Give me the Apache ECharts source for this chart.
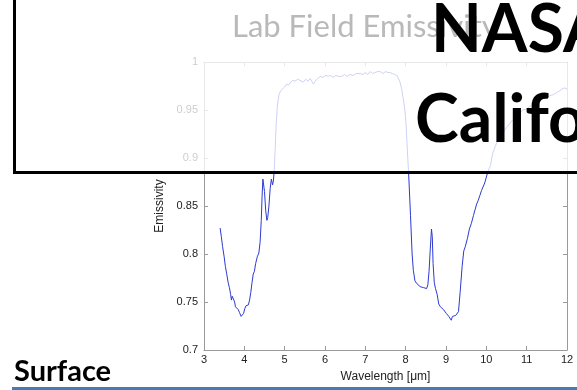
<!DOCTYPE html>
<html><head><meta charset="utf-8">
<script src="https://cdn.jsdelivr.net/npm/echarts@6/dist/echarts.min.js"></script>
<style>html,body{margin:0;padding:0;background:#fff;}#c{width:577px;height:390px;}</style>
</head><body><div id="c"></div>
<script>
var wavelength = [3.40,3.43,3.46,3.50,3.53,3.56,3.60,3.63,3.66,3.68,3.70,3.73,3.76,3.78,3.82,3.85,3.88,3.92,3.95,3.98,4.01,4.04,4.07,4.10,4.13,4.16,4.19,4.22,4.25,4.28,4.32,4.36,4.39,4.42,4.44,4.46,4.48,4.50,4.53,4.56,4.58,4.61,4.64,4.67,4.70,4.72,4.74,4.76,4.79,4.82,4.86,4.90,4.95,5.00,5.05,5.10,5.15,5.20,5.26,5.32,5.38,5.46,5.52,5.58,5.63,5.67,5.71,5.76,5.82,5.88,5.95,6.02,6.08,6.13,6.20,6.27,6.34,6.42,6.48,6.55,6.62,6.70,6.78,6.87,6.94,7.01,7.06,7.12,7.18,7.24,7.30,7.37,7.44,7.50,7.56,7.61,7.67,7.73,7.78,7.82,7.86,7.90,7.94,7.98,8.01,8.04,8.08,8.12,8.16,8.19,8.23,8.28,8.32,8.36,8.40,8.44,8.48,8.52,8.55,8.58,8.61,8.64,8.66,8.68,8.71,8.74,8.78,8.82,8.86,8.90,8.94,8.98,9.01,9.04,9.07,9.10,9.13,9.16,9.20,9.24,9.28,9.31,9.35,9.40,9.44,9.48,9.53,9.58,9.63,9.68,9.72,9.76,9.80,9.84,9.88,9.92,9.96,10.00,10.04,10.10,10.16,10.22,10.30,10.36,10.42,10.50,10.58,10.66,10.74,10.82,10.90,11.00,11.08,11.16,11.25,11.34,11.42,11.50,11.58,11.66,11.74,11.82,11.88,11.94,12.00];
var emissivity = [0.827,0.818,0.808,0.797,0.787,0.780,0.770,0.765,0.758,0.752,0.756,0.754,0.750,0.745,0.743,0.742,0.739,0.735,0.733,0.738,0.743,0.746,0.745,0.747,0.752,0.760,0.770,0.779,0.782,0.790,0.797,0.801,0.812,0.835,0.860,0.878,0.876,0.865,0.845,0.835,0.838,0.850,0.868,0.878,0.872,0.876,0.886,0.905,0.935,0.955,0.966,0.970,0.972,0.974,0.977,0.976,0.979,0.981,0.980,0.982,0.981,0.979,0.982,0.980,0.983,0.980,0.977,0.980,0.983,0.985,0.984,0.986,0.985,0.986,0.984,0.986,0.985,0.985,0.987,0.985,0.987,0.986,0.988,0.988,0.987,0.989,0.987,0.990,0.988,0.989,0.990,0.990,0.988,0.990,0.989,0.989,0.988,0.987,0.986,0.983,0.979,0.972,0.962,0.950,0.935,0.910,0.878,0.840,0.800,0.783,0.772,0.769,0.768,0.766,0.768,0.765,0.766,0.764,0.768,0.782,0.805,0.826,0.818,0.790,0.770,0.764,0.758,0.748,0.745,0.745,0.742,0.743,0.738,0.739,0.735,0.733,0.731,0.735,0.734,0.736,0.735,0.740,0.760,0.787,0.803,0.808,0.816,0.826,0.832,0.840,0.846,0.852,0.856,0.861,0.866,0.868,0.874,0.880,0.886,0.892,0.905,0.912,0.920,0.923,0.927,0.932,0.936,0.940,0.943,0.946,0.950,0.951,0.954,0.956,0.959,0.960,0.962,0.963,0.965,0.966,0.968,0.970,0.972,0.973,0.972];
var xTicks = [3,4,5,6,7,8,9,10,11,12];
var yTicks = [0.7,0.75,0.8,0.85,0.9,0.95,1];
var chartTitle = 'Lab Field Emissivity';
var xName = 'Wavelength [\u03bcm]';
var yName = 'Emissivity';
var slideTexts = ['NASA', 'California', 'Surface'];

var pairs = wavelength.map(function (w, i) { return [w, emissivity[i]]; });
var axisCol = '#9a9a9a';
var labelCol = '#222';
function baseAxis(extra) {
  var a = {
    type: 'value', splitLine: {show: false},
    axisLine: {show: true, onZero: false, lineStyle: {color: axisCol, width: 1}},
    axisTick: {show: true, inside: true, length: 4, lineStyle: {color: axisCol}},
    axisLabel: {color: labelCol, fontFamily: 'Liberation Sans', fontSize: 11}
  };
  for (var k in extra) a[k] = extra[k];
  return a;
}
var chart = echarts.init(document.getElementById('c'), null, {renderer: 'canvas'});
chart.setOption({
  animation: false,
  backgroundColor: '#fff',
  title: {text: chartTitle, left: 227, top: 6, z: 60,
    textStyle: {color: '#b9b9b9', fontFamily: 'Lato', fontWeight: 'normal', fontSize: 31}},
  grid: {left: 204, right: 10, top: 62, bottom: 40, containLabel: false},
  xAxis: [
    baseAxis({min: 3, max: 12, interval: 1, position: 'bottom',
      name: xName, nameLocation: 'middle', nameGap: 21,
      nameTextStyle: {color: labelCol, fontFamily: 'Liberation Sans', fontSize: 12},
      axisLabel: {color: labelCol, fontFamily: 'Liberation Sans', fontSize: 11, margin: 4}}),
    baseAxis({min: 3, max: 12, interval: 1, position: 'top', axisLabel: {show: false}})
  ],
  yAxis: [
    baseAxis({min: 0.7, max: 1, interval: 0.05, position: 'left',
      name: yName, nameLocation: 'middle', nameGap: 31,
      nameTextStyle: {color: labelCol, fontFamily: 'Liberation Sans', fontSize: 12},
      axisLabel: {color: labelCol, fontFamily: 'Liberation Sans', fontSize: 11, margin: 6,
        formatter: function (v) { return String(+v.toFixed(2)); }}}),
    baseAxis({min: 0.7, max: 1, interval: 0.05, position: 'right', axisLabel: {show: false}})
  ],
  series: [{
    type: 'line', data: pairs, showSymbol: false, xAxisIndex: 0, yAxisIndex: 0,
    lineStyle: {color: '#2d3ad0', width: 1}, itemStyle: {color: '#2d3ad0'}
  }],
  graphic: [
    {type: 'rect', z: 50, shape: {x: 14.5, y: -10, width: 640, height: 182.5},
      style: {fill: 'rgba(255,255,255,0.77)', stroke: '#000', lineWidth: 3}},
    {type: 'text', z: 70, x: 431, y: -2, style: {text: slideTexts[0], font: 'bold 66px Lato', fill: '#000'}},
    {type: 'text', z: 70, x: 415, y: 88, style: {text: slideTexts[1], font: 'bold 66px Lato', fill: '#000'}},
    {type: 'text', z: 70, x: 14, y: 357, style: {text: slideTexts[2], font: 'bold 29px Lato', fill: '#000'}},
    {type: 'line', z: 70, shape: {x1: 12, y1: 388.5, x2: 577, y2: 388.5},
      style: {stroke: '#4a7ab4', lineWidth: 3}}
  ]
});
</script></body></html>
